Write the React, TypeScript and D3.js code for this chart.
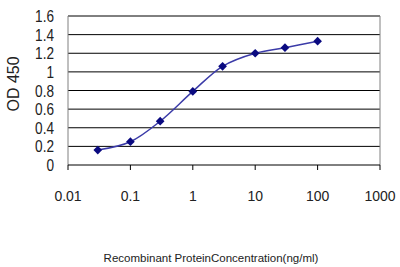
import React from "react";
import * as d3 from "d3";

const concentrations = [0.03, 0.1, 0.3, 1, 3, 10, 30, 100];
const odValues = [0.16, 0.25, 0.47, 0.79, 1.06, 1.2, 1.26, 1.33];
const yTicks = [0, 0.2, 0.4, 0.6, 0.8, 1, 1.2, 1.4, 1.6];
const xTicks = [0.01, 0.1, 1, 10, 100, 1000];
const xTitle = "Recombinant ProteinConcentration(ng/ml)";
const yTitle = "OD 450";

export default function App() {
  const W = 400, H = 267;
  const left = 68, right = 380, top = 16, bottom = 165;
  const x = d3.scaleLog().domain([0.01, 1000]).range([left, right]);
  const y = d3.scaleLinear().domain([0, 1.6]).range([bottom, top]);
  const line = d3.line<number>()
    .x((_, i) => x(concentrations[i]))
    .y((d) => y(d))
    .curve(d3.curveCatmullRom.alpha(0.5));
  const font = "Liberation Sans, Arial, sans-serif";
  const marker = d3.symbol().type(d3.symbolSquare).size(38)() as string;
  return (
    <svg width={W} height={H} style={{ position: "absolute", left: 0, top: 0, background: "#fff" }}>
      <rect x={0} y={0} width={W} height={H} fill="#fff" />
      {yTicks.slice(1).map((t) => (
        <line key={t} x1={left} x2={right} y1={y(t)} y2={y(t)} stroke="#000" strokeWidth={1} />
      ))}
      <line x1={left} x2={left} y1={top} y2={bottom} stroke="#808080" />
      <line x1={right} x2={right} y1={top} y2={bottom} stroke="#808080" />
      <line x1={left} x2={right} y1={top} y2={top} stroke="#808080" />
      <line x1={left} x2={right} y1={bottom} y2={bottom} stroke="#000" />
      {xTicks.map((t) => (
        <line key={t} x1={x(t)} x2={x(t)} y1={bottom} y2={bottom + 5} stroke="#000" />
      ))}
      {yTicks.map((t) => (
        <text key={t} transform={`translate(54,${y(t) + 6}) scale(0.85,1)`} textAnchor="end" fontSize={16} fontFamily={font} fill="#222">
          {String(t)}
        </text>
      ))}
      {xTicks.map((t) => (
        <text key={t} x={x(t)} y={201} textAnchor="middle" fontSize={14} fontFamily={font} fill="#222">
          {String(t)}
        </text>
      ))}
      <path d={line(odValues) as string} fill="none" stroke="#3b3ba8" strokeWidth={1.5} />
      {odValues.map((v, i) => (
        <path key={i} d={marker} transform={`translate(${x(concentrations[i])},${y(v)}) rotate(45)`} fill="#0a0a80" />
      ))}
      <text x={211} y={262} textAnchor="middle" fontSize={11.5} fontFamily={font} fill="#222">
        {xTitle}
      </text>
      <text transform={`translate(19,84) rotate(-90)`} textAnchor="middle" fontSize={16} fontFamily={font} fill="#222">
        {yTitle}
      </text>
    </svg>
  );
}
